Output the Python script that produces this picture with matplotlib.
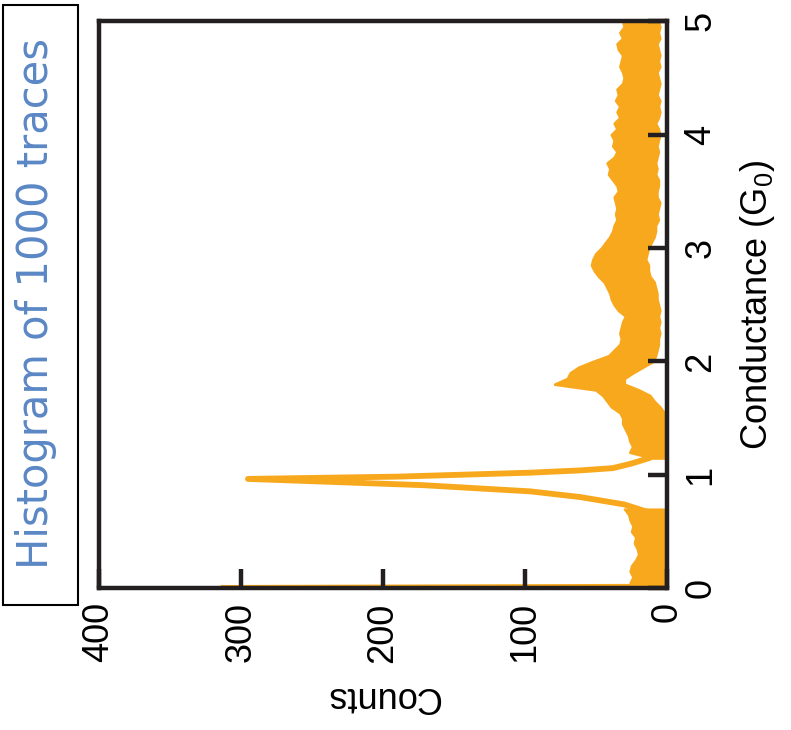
import numpy as np
import matplotlib
matplotlib.use("Agg")
import matplotlib.pyplot as plt
from matplotlib.patches import Rectangle

plt.rcParams["font.family"] = ["Liberation Sans", "DejaVu Sans"]
plt.rcParams["mathtext.default"] = "regular"

# --- data: conductance histogram ---
# upper band (G >= 1.15): lower / upper edge of the noisy counts
g_upper = np.round(np.arange(1.15, 5.0001, 0.05), 2)
low_upper = [0, 1, 1, 0, 1, 0, 1, 1, 2, 5, 9, 12, 20, 30, 30, 24, 17, 10, 8, 7,
             6, 6, 5, 6, 5, 6, 5, 6, 7, 7, 8, 9, 12, 13, 13, 15, 14, 13, 11, 9,
             8, 8, 6, 7, 6, 5, 7, 7, 6, 6, 8, 7, 8, 7, 6, 7, 6, 5, 6, 8,
             6, 5, 6, 5, 7, 6, 5, 6, 7, 5, 6, 5, 6, 7, 5, 6, 5, 6]
high_upper = [10, 26, 24, 26, 27, 29, 31, 31, 33, 39, 42, 45, 50, 79, 70, 68, 62, 52, 41, 37,
              33, 32, 33, 32, 31, 29, 34, 37, 39, 40, 42, 44, 48, 51, 53, 52, 50, 46, 43, 40,
              38, 37, 35, 36, 35, 36, 37, 34, 35, 38, 41, 40, 42, 37, 35, 38, 37, 39, 35, 37,
              33, 35, 33, 36, 34, 35, 31, 30, 31, 33, 32, 31, 34, 35, 31, 33, 30, 31]

# lower band (G <= 0.70), including the big first bin near G = 0
g_lower = [0.00, 0.015, 0.025, 0.035, 0.05, 0.10, 0.15, 0.20, 0.25, 0.30, 0.35, 0.40, 0.45, 0.50, 0.55, 0.60, 0.65, 0.70]
low_lower = [0, 0, 0, 0, 0, 1, 0, 1, 0, 1, 0, 1, 0, 1, 0, 1, 0, 1]
high_lower = [20, 22, 314, 22, 26, 24, 26, 25, 22, 20, 21, 23, 22, 25, 24, 26, 27, 30]

# the sharp 1 G0 peak
peak_g = [0.66, 0.74, 0.805, 0.855, 0.91, 0.965, 0.985, 1.02, 1.04, 1.06, 1.10, 1.15]
peak_counts = [10, 30, 61, 96, 172, 295, 190, 96, 61, 38, 25, 12]

count_ticks = [0, 100, 200, 300, 400]
cond_ticks = [0, 1, 2, 3, 4, 5]

ORANGE = "#F8A81C"
DARK = "#231F20"

fig = plt.figure(figsize=(7.91, 7.30), dpi=100)
ax = fig.add_axes([0.125, 0.194, 0.718, 0.777])

ax.fill_betweenx(g_upper, low_upper, high_upper, facecolor=ORANGE, edgecolor=ORANGE,
                 lw=2.0, joinstyle="round")
ax.fill_betweenx(g_lower, low_lower, high_lower, facecolor=ORANGE, edgecolor=ORANGE,
                 lw=1.5, joinstyle="round")
ax.plot(peak_counts, peak_g, color=ORANGE, lw=4.2, solid_joinstyle="round", solid_capstyle="round")

ax.set_xlim(400, 0)
ax.set_ylim(0, 5)
ax.set_xticks(count_ticks)
ax.set_yticks(cond_ticks)
ax.yaxis.tick_right()
ax.yaxis.set_label_position("right")

for s in ax.spines.values():
    s.set_linewidth(3.2)
    s.set_color(DARK)
    s.set_zorder(5)

ax.tick_params(axis="both", direction="in", length=14, width=3.2, color=DARK, labelsize=26)
ax.tick_params(axis="x", pad=10, labelrotation=90)
ax.tick_params(axis="y", pad=12, labelrotation=90)
for lab in ax.get_yticklabels():
    lab.set_verticalalignment("center")

ax.set_xlabel("Counts", fontsize=26, rotation=180, labelpad=12)
ax.set_ylabel(r"Conductance (G$_0$)", fontsize=26, rotation=90, labelpad=14)

# title box on the left
fig.patches.append(Rectangle((0.004, 0.171), 0.094, 0.822, transform=fig.transFigure,
                             facecolor="white", edgecolor="black", lw=1.5))
fig.text(0.045, 0.584, "Histogram of 1000 traces", rotation=90, ha="center", va="center",
         fontsize=30, color="#5B87C5", family=["DejaVu Sans"])

fig.savefig("out.png", dpi=100)
